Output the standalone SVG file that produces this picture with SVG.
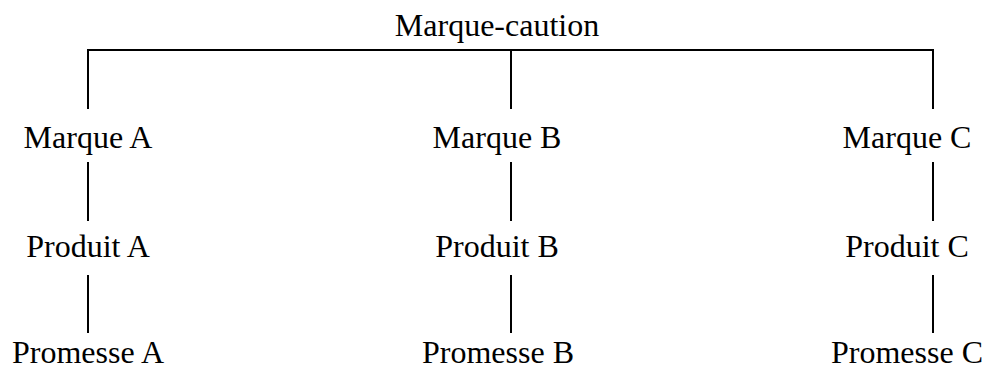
<svg xmlns="http://www.w3.org/2000/svg" width="984" height="370" viewBox="0 0 984 370">
<style>
text{font-family:"Liberation Serif","Times New Roman",serif;font-size:32px;fill:#000;text-anchor:middle}
.c line,.c polyline{stroke:#000;stroke-width:2;fill:none}
</style>
<rect width="984" height="370" fill="#fff"/>
<g class="c" id="connectors">
<polyline points="88,109 88,50 933,50 933,109"/>
<line x1="511" y1="50" x2="511" y2="109"/>
<line x1="88" y1="162" x2="88" y2="221"/>
<line x1="511" y1="162" x2="511" y2="221"/>
<line x1="933" y1="162" x2="933" y2="221"/>
<line x1="88" y1="275" x2="88" y2="333"/>
<line x1="511" y1="275" x2="511" y2="333"/>
<line x1="933" y1="275" x2="933" y2="333"/>
</g>
<g id="root"><text x="497" y="36">Marque-caution</text></g>
<g id="marqueA"><text x="88" y="148">Marque A</text></g>
<g id="marqueB"><text x="497" y="148">Marque B</text></g>
<g id="marqueC"><text x="907" y="148">Marque C</text></g>
<g id="produitA"><text x="88" y="257">Produit A</text></g>
<g id="produitB"><text x="497" y="257">Produit B</text></g>
<g id="produitC"><text x="907" y="257">Produit C</text></g>
<g id="promesseA"><text x="88" y="363">Promesse A</text></g>
<g id="promesseB"><text x="498" y="363">Promesse B</text></g>
<g id="promesseC"><text x="907" y="363">Promesse C</text></g>
</svg>
